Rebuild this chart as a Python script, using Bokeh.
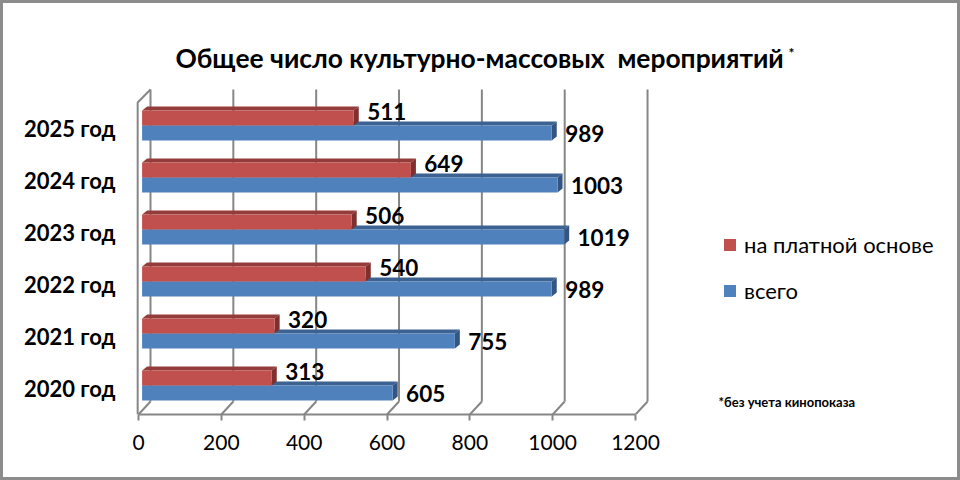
from bokeh.plotting import figure
from bokeh.layouts import column
from bokeh.models import (ColumnDataSource, FixedTicker, Legend, LegendItem,
                          LinearAxis, Range1d)
from bokeh.core.properties import value
from bokeh.embed import file_html
from bokeh.resources import INLINE

years = ["2020 год", "2021 год", "2022 год", "2023 год", "2024 год", "2025 год"]
total = [605, 755, 989, 1019, 1003, 989]
paid = [313, 320, 540, 506, 649, 511]
x_ticks = [0, 200, 400, 600, 800, 1000, 1200]
title_text = "Общее число культурно-массовых \u00a0мероприятий"
series_names = ["на платной основе", "всего"]
note = "*без учета кинопоказа"

FONT = "Lato"
RED, RED_TOP, RED_SIDE = "#C0504D", "#943C3A", "#7F2F2D"
BLUE, BLUE_TOP, BLUE_SIDE = "#4F81BD", "#3C6291", "#345583"
GRID = "#868686"
W, H = 960, 480
EDGE = 3                       # picture border
PX_X, PX_Y = 0.4142, 52.0      # px per x unit, px per category
L, T, B = 130, 8, 66           # frame insets, page px


def ux(px):
    return (px - 138) / PX_X


def uy(px):
    return (388 - px) / PX_Y


p = figure(width=W - 2 * EDGE, height=H - 2 * EDGE, output_backend="svg", toolbar_location=None,
           x_axis_type=None, y_axis_type=None,
           x_range=Range1d(ux(L), ux(W - EDGE)), y_range=Range1d(uy(H - B), uy(T)),
           min_border_left=L - EDGE, min_border_right=0, min_border_top=T - EDGE,
           min_border_bottom=B - EDGE,
           outline_line_color=None, background_fill_color="white", border_fill_color="white",
           margin=EDGE, styles={"background-color": "white"})
p.grid.visible = False

# Pseudo-3D walls: depth in data units
WX, WY = 12 / PX_X, 13 / PX_Y
top_y = 5.5
xs_grid = [[t + WX, t + WX] for t in x_ticks]
ys_grid = [[-0.5 + WY, top_y + WY] for _ in x_ticks]
p.multi_line(xs_grid, ys_grid, line_color=GRID, line_width=2)
p.multi_line([[t, t + WX] for t in x_ticks], [[-0.5, -0.5 + WY] for _ in x_ticks],
             line_color=GRID, line_width=2)
p.multi_line([[-2, -2, WX]], [[-0.5, top_y, top_y + WY]], line_color=GRID, line_width=2)

x_axis = LinearAxis(ticker=FixedTicker(ticks=x_ticks), bounds=(0, 1200),
                    axis_line_color=GRID, axis_line_width=2,
                    major_tick_line_color=GRID, major_tick_line_width=2,
                    major_tick_in=0, major_tick_out=6, minor_tick_line_color=None,
                    major_label_text_font=FONT, major_label_text_font_size="21px",
                    major_label_text_color="black", major_label_standoff=14)
p.add_layout(x_axis, "below")

y_idx = list(range(len(years)))
y_axis = LinearAxis(ticker=FixedTicker(ticks=y_idx),
                    major_label_overrides={i: years[i] for i in y_idx},
                    axis_line_color=None, major_tick_line_color=None, minor_tick_line_color=None,
                    major_label_text_font=FONT, major_label_text_font_size="22px",
                    major_label_text_font_style="bold", major_label_text_color="black",
                    major_label_standoff=9)
p.add_layout(y_axis, "left")

# Bars
X0 = 3.6 / PX_X
BAR = 15 / PX_Y
DX, DY = 5 / PX_X, 4 / PX_Y
MID = 3 / PX_Y


def bars(vals, y0s, front, top, side):
    y1s = [y + BAR for y in y0s]
    p.patches([[X0, X0 + DX, v + X0 + DX, v + X0] for v in vals],
              [[y, y + DY, y + DY, y] for y in y1s], fill_color=top, line_color=None)
    p.patches([[v + X0, v + X0 + DX, v + X0 + DX, v + X0] for v in vals],
              [[y0, y0 + DY, y1 + DY, y1] for y0, y1 in zip(y0s, y1s)], fill_color=side, line_color=None)
    src = ColumnDataSource(dict(left=[X0] * len(vals), right=[v + X0 for v in vals],
                                bottom=y0s, top=y1s))
    return p.quad(left="left", right="right", bottom="bottom", top="top", source=src,
                  fill_color=front, line_color=None)


blue_y0 = [i + MID - BAR for i in y_idx]
red_y0 = [i + MID for i in y_idx]
r_blue = bars(total, blue_y0, BLUE, BLUE_TOP, BLUE_SIDE)
r_red = bars(paid, red_y0, RED, RED_TOP, RED_SIDE)

# Data labels
LAB = 13.4 / PX_X
p.text(x=[v + X0 + LAB for v in paid], y=[y + BAR - 0.5 / PX_Y for y in red_y0],
       text=[str(v) for v in paid], text_font=value(FONT), text_font_size="22.5px",
       text_font_style="bold", text_color="black", text_baseline="middle", text_align="left")
p.text(x=[v + X0 + LAB for v in total], y=[y + BAR / 2 for y in blue_y0],
       text=[str(v) for v in total], text_font=value(FONT), text_font_size="22.5px",
       text_font_style="bold", text_color="black", text_baseline="middle", text_align="left")

legend = Legend(items=[LegendItem(label=series_names[0], renderers=[r_red]),
                       LegendItem(label=series_names[1], renderers=[r_blue])],
                location=(592, 110), orientation="vertical", border_line_color=None,
                background_fill_alpha=0, padding=0, margin=0, spacing=19,
                glyph_width=15, glyph_height=15, label_standoff=7,
                label_text_font=FONT, label_text_font_size="22px", label_text_color="black",
                label_height=20, click_policy="none")
p.add_layout(legend, "center")

# Title, its asterisk and the footnote
p.text(x=[ux(175)], y=[uy(57)], text=[title_text], text_font=value(FONT), text_font_size="26.4px",
       text_font_style="bold", text_color="black", text_baseline="middle", text_align="left")
p.text(x=[ux(788)], y=[uy(52)], text=["*"], text_font=value(FONT), text_font_size="14px",
       text_font_style="bold", text_color="black", text_baseline="middle", text_align="left")
p.text(x=[ux(718)], y=[uy(401)], text=[note], text_font=value(FONT), text_font_size="13px",
       text_font_style="bold", text_color="black", text_baseline="middle", text_align="left")

page = column(p, width=W, height=H, styles={"background-color": "#8C8C8C"})
open("out.html", "w").write(file_html(page, INLINE))
